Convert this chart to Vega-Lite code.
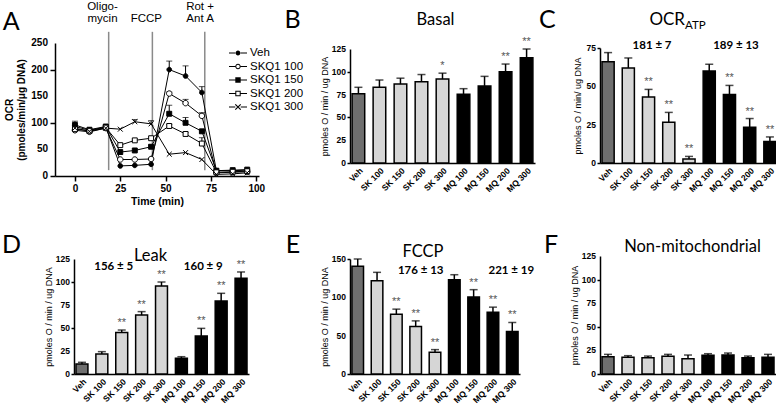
{
"$schema": "https://vega.github.io/schema/vega-lite/v6.json",
"background": "white",
"padding": {"left": 1, "top": 1, "right": 0, "bottom": 0},
"config": {"view": {"stroke": null}, "font": "Liberation Sans", "axis": {"domainColor": "black", "tickColor": "black", "labelColor": "black", "titleColor": "black", "grid": false, "labelFont": "Liberation Sans", "titleFont": "Liberation Sans", "labelOverlap": false}},
"resolve": {"scale": {"fill": "independent", "shape": "independent"}, "legend": {"fill": "independent", "shape": "independent"}},
"datasets": {
"tc": [
{"s":"Veh","t":0,"v":93,"u":103},{"s":"Veh","t":8,"v":86},{"s":"Veh","t":17,"v":92},{"s":"Veh","t":25,"v":19},{"s":"Veh","t":33,"v":20},{"s":"Veh","t":42,"v":22},{"s":"Veh","t":52,"v":200,"u":216},{"s":"Veh","t":61,"v":188,"u":207},{"s":"Veh","t":70,"v":157,"u":168},{"s":"Veh","t":78,"v":10},{"s":"Veh","t":87,"v":10},{"s":"Veh","t":95,"v":11},
{"s":"SKQ1 100","t":0,"v":86},{"s":"SKQ1 100","t":8,"v":83},{"s":"SKQ1 100","t":17,"v":90},{"s":"SKQ1 100","t":25,"v":31},{"s":"SKQ1 100","t":33,"v":31},{"s":"SKQ1 100","t":42,"v":32},{"s":"SKQ1 100","t":52,"v":155,"u":158},{"s":"SKQ1 100","t":61,"v":137,"u":144},{"s":"SKQ1 100","t":70,"v":113,"u":119},{"s":"SKQ1 100","t":78,"v":6},{"s":"SKQ1 100","t":87,"v":7},{"s":"SKQ1 100","t":95,"v":8},
{"s":"SKQ1 150","t":0,"v":96},{"s":"SKQ1 150","t":8,"v":87},{"s":"SKQ1 150","t":17,"v":93},{"s":"SKQ1 150","t":25,"v":45},{"s":"SKQ1 150","t":33,"v":48},{"s":"SKQ1 150","t":42,"v":55,"u":58},{"s":"SKQ1 150","t":52,"v":117,"u":133},{"s":"SKQ1 150","t":61,"v":100,"u":110},{"s":"SKQ1 150","t":70,"v":84,"u":86},{"s":"SKQ1 150","t":78,"v":10},{"s":"SKQ1 150","t":87,"v":11},{"s":"SKQ1 150","t":95,"v":12},
{"s":"SKQ1 200","t":0,"v":88},{"s":"SKQ1 200","t":8,"v":85},{"s":"SKQ1 200","t":17,"v":91},{"s":"SKQ1 200","t":25,"v":58},{"s":"SKQ1 200","t":33,"v":67},{"s":"SKQ1 200","t":42,"v":71},{"s":"SKQ1 200","t":52,"v":94,"u":97},{"s":"SKQ1 200","t":61,"v":79,"u":82},{"s":"SKQ1 200","t":70,"v":61,"u":72},{"s":"SKQ1 200","t":78,"v":7},{"s":"SKQ1 200","t":87,"v":8},{"s":"SKQ1 200","t":95,"v":9},
{"s":"SKQ1 300","t":0,"v":90},{"s":"SKQ1 300","t":8,"v":84},{"s":"SKQ1 300","t":17,"v":90},{"s":"SKQ1 300","t":25,"v":88},{"s":"SKQ1 300","t":33,"v":102,"u":106},{"s":"SKQ1 300","t":42,"v":98,"u":104},{"s":"SKQ1 300","t":52,"v":41},{"s":"SKQ1 300","t":61,"v":44},{"s":"SKQ1 300","t":70,"v":31},{"s":"SKQ1 300","t":78,"v":3},{"s":"SKQ1 300","t":87,"v":4},{"s":"SKQ1 300","t":95,"v":6}
],
"bars": [
{"p":"B","c":"Veh","g":"Veh","v":76,"u":83,"s":""},{"p":"B","c":"SK 100","g":"SK","v":83,"u":91,"s":""},{"p":"B","c":"SK 150","g":"SK","v":86.5,"u":93,"s":""},{"p":"B","c":"SK 200","g":"SK","v":89,"u":97,"s":""},{"p":"B","c":"SK 300","g":"SK","v":92,"u":98.5,"s":"*"},{"p":"B","c":"MQ 100","g":"MQ","v":75.5,"u":81.5,"s":""},{"p":"B","c":"MQ 150","g":"MQ","v":84.5,"u":95,"s":""},{"p":"B","c":"MQ 200","g":"MQ","v":100,"u":108.5,"s":"**"},{"p":"B","c":"MQ 300","g":"MQ","v":115.5,"u":125,"s":"**"},
{"p":"C","c":"Veh","g":"Veh","v":66,"u":72,"s":""},{"p":"C","c":"SK 100","g":"SK","v":62,"u":68.5,"s":""},{"p":"C","c":"SK 150","g":"SK","v":43,"u":48,"s":"**"},{"p":"C","c":"SK 200","g":"SK","v":26.6,"u":33,"s":"**"},{"p":"C","c":"SK 300","g":"SK","v":2.6,"u":4.3,"s":"**"},{"p":"C","c":"MQ 100","g":"MQ","v":60,"u":64.4,"s":""},{"p":"C","c":"MQ 150","g":"MQ","v":44.7,"u":50.6,"s":"**"},{"p":"C","c":"MQ 200","g":"MQ","v":23.3,"u":29,"s":"**"},{"p":"C","c":"MQ 300","g":"MQ","v":14,"u":17,"s":"**"},
{"p":"D","c":"Veh","g":"Veh","v":10.9,"u":12.7,"s":""},{"p":"D","c":"SK 100","g":"SK","v":21.7,"u":24.3,"s":""},{"p":"D","c":"SK 150","g":"SK","v":45,"u":47.8,"s":"**"},{"p":"D","c":"SK 200","g":"SK","v":64,"u":67.8,"s":"**"},{"p":"D","c":"SK 300","g":"SK","v":95.6,"u":100,"s":"**"},{"p":"D","c":"MQ 100","g":"MQ","v":17,"u":18.8,"s":""},{"p":"D","c":"MQ 150","g":"MQ","v":41.3,"u":49.6,"s":"**"},{"p":"D","c":"MQ 200","g":"MQ","v":79.3,"u":87.7,"s":"**"},{"p":"D","c":"MQ 300","g":"MQ","v":104,"u":110.9,"s":"**"},
{"p":"E","c":"Veh","g":"Veh","v":140.4,"u":150,"s":""},{"p":"E","c":"SK 100","g":"SK","v":121.7,"u":132.6,"s":""},{"p":"E","c":"SK 150","g":"SK","v":78,"u":84.6,"s":"**"},{"p":"E","c":"SK 200","g":"SK","v":62,"u":69.3,"s":"**"},{"p":"E","c":"SK 300","g":"SK","v":28.3,"u":31.8,"s":"**"},{"p":"E","c":"MQ 100","g":"MQ","v":123,"u":129.5,"s":""},{"p":"E","c":"MQ 150","g":"MQ","v":100.3,"u":110,"s":"**"},{"p":"E","c":"MQ 200","g":"MQ","v":80.7,"u":87.2,"s":"**"},{"p":"E","c":"MQ 300","g":"MQ","v":55.4,"u":67.2,"s":"**"},
{"p":"F","c":"Veh","g":"Veh","v":18.4,"u":20.8,"s":""},{"p":"F","c":"SK 100","g":"SK","v":17.7,"u":19.4,"s":""},{"p":"F","c":"SK 150","g":"SK","v":17.3,"u":19,"s":""},{"p":"F","c":"SK 200","g":"SK","v":18.7,"u":20.8,"s":""},{"p":"F","c":"SK 300","g":"SK","v":16.2,"u":20.1,"s":""},{"p":"F","c":"MQ 100","g":"MQ","v":19.8,"u":21.5,"s":""},{"p":"F","c":"MQ 150","g":"MQ","v":20.1,"u":22.2,"s":""},{"p":"F","c":"MQ 200","g":"MQ","v":17.3,"u":19,"s":""},{"p":"F","c":"MQ 300","g":"MQ","v":17.7,"u":20.8,"s":""}
]
},
"columns": 3,
"bounds": "flush",
"spacing": {"row": 80, "column": 65},
"concat": [
{
 "width": 230, "height": 133,
 "resolve": {"scale": {"shape": "independent"}},
 "layer": [
  {"data": {"values": [{"t":18.6},{"t":42.7},{"t":71.6}]}, "mark": {"type": "rule", "color": "#8a8a8a", "strokeWidth": 1.5}, "encoding": {"x": {"field": "t", "type": "quantitative"}, "y": {"datum": 11}, "y2": {"datum": 271}}},
  {"data": {"name": "tc"}, "mark": {"type": "line", "color": "black", "strokeWidth": 1}, "encoding": {
    "x": {"field": "t", "type": "quantitative", "scale": {"domain": [-11, 101.5], "range": [0, 204], "nice": false, "zero": false}, "axis": {"values": [0,25,50,75,100], "labelOverlap": false, "title": "Time (min)", "titleFontWeight": "bold", "titleFontSize": 10.5, "titlePadding": 3, "labelFontWeight": "bold", "labelFontSize": 10, "labelPadding": 2, "tickSize": 5, "tickWidth": 1.5, "domainWidth": 1.5}},
    "y": {"field": "v", "type": "quantitative", "scale": {"domain": [0, 250], "nice": false}, "axis": {"values": [0,50,100,150,200,250], "labels": false, "title": ["OCR", "(pmoles/min/μg DNA)"], "titleFontWeight": "bold", "titleFontSize": 10, "titlePadding": 23, "tickSize": 5, "tickWidth": 1.5, "domainWidth": 1.5}},
    "detail": {"field": "s"}}},
  {"data": {"values": [{"yv":0},{"yv":50},{"yv":100},{"yv":150},{"yv":200},{"yv":250}]}, "mark": {"type": "text", "align": "right", "baseline": "middle", "dx": -7, "font": "Liberation Sans", "fontWeight": "bold", "fontSize": 10, "color": "black"}, "encoding": {"x": {"datum": -11}, "y": {"field": "yv", "type": "quantitative"}, "text": {"field": "yv", "type": "quantitative"}}},
  {"data": {"name": "tc"}, "transform": [{"filter": "datum.u != null"}], "mark": {"type": "rule", "color": "black", "strokeWidth": 1}, "encoding": {"x": {"field": "t", "type": "quantitative"}, "y": {"field": "v", "type": "quantitative"}, "y2": {"field": "u"}}},
  {"data": {"name": "tc"}, "transform": [{"filter": "datum.u != null"}], "mark": {"type": "tick", "orient": "horizontal", "color": "black", "size": 6, "thickness": 1}, "encoding": {"x": {"field": "t", "type": "quantitative"}, "y": {"field": "u", "type": "quantitative"}}},
  {"data": {"name": "tc"}, "mark": {"type": "point", "filled": true, "stroke": "black", "strokeWidth": 1, "size": 30, "opacity": 1}, "encoding": {
    "x": {"field": "t", "type": "quantitative"},
    "y": {"field": "v", "type": "quantitative"},
    "shape": {"field": "s", "type": "nominal", "scale": {"domain": ["Veh","SKQ1 100","SKQ1 150","SKQ1 200","SKQ1 300"], "range": ["M-0.85,0A0.85,0.85,0,1,0,0.85,0A0.85,0.85,0,1,0,-0.85,0Z","M-1,0A1,1,0,1,0,1,0A1,1,0,1,0,-1,0Z","M-0.9,-0.9H0.9V0.9H-0.9Z","M-0.9,-0.9H0.9V0.9H-0.9Z","M-0.9,-0.9L0.9,0.9M-0.9,0.9L0.9,-0.9"]}, "legend": null},
    "fill": {"field": "s", "type": "nominal", "scale": {"domain": ["Veh","SKQ1 100","SKQ1 150","SKQ1 200","SKQ1 300"], "range": ["black","white","black","white","black"]}, "legend": null}}},
  {"data": {"name": "tc"}, "transform": [{"filter": "datum.t == 0"}], "mark": {"type": "point", "filled": true, "color": "black", "size": 0, "strokeWidth": 0}, "encoding": {
    "x": {"field": "t", "type": "quantitative"},
    "y": {"field": "v", "type": "quantitative"},
    "shape": {"field": "s", "type": "nominal", "scale": {"domain": ["Veh","SKQ1 100","SKQ1 150","SKQ1 200","SKQ1 300"], "range": [
      "M-1.286,-0.071H-0.386V0.071H-1.286ZM0.386,-0.071H1.286V0.071H0.386ZM-0.34,0A0.34,0.34,0,1,0,0.34,0A0.34,0.34,0,1,0,-0.34,0Z",
      "M-1.286,-0.071H-0.386V0.071H-1.286ZM0.386,-0.071H1.286V0.071H0.386ZM-0.386,0A0.386,0.386,0,1,0,0.386,0A0.386,0.386,0,1,0,-0.386,0ZM-0.243,0A0.243,0.243,0,1,1,0.243,0A0.243,0.243,0,1,1,-0.243,0Z",
      "M-1.286,-0.071H-0.386V0.071H-1.286ZM0.386,-0.071H1.286V0.071H0.386ZM-0.386,-0.386H0.386V0.386H-0.386Z",
      "M-1.286,-0.071H-0.386V0.071H-1.286ZM0.386,-0.071H1.286V0.071H0.386ZM-0.386,-0.386H0.386V0.386H-0.386ZM-0.243,-0.243V0.243H0.243V-0.243Z",
      "M-1.286,-0.071H-0.386V0.071H-1.286ZM0.386,-0.071H1.286V0.071H0.386ZM-0.446,-0.326L0.326,0.446L0.446,0.326L-0.326,-0.446ZM-0.446,0.326L-0.326,0.446L0.446,-0.326L0.326,-0.446Z"]},
      "legend": {"title": null, "orient": "none", "legendX": 176, "legendY": 3, "padding": 0, "labelFont": "Liberation Sans", "labelFontSize": 11.5, "labelColor": "black", "labelOffset": 5, "rowPadding": 0.5, "symbolSize": 196, "symbolFillColor": "black", "symbolStrokeWidth": 0, "symbolOpacity": 1}}}},
  {"data": {"values": [{"t": 15.2, "lab": "Oligo-\nmycin"}, {"t": 39.4, "lab": "\nFCCP"}, {"t": 69, "lab": "Rot +\nAnt A"}]}, "mark": {"type": "text", "align": "center", "baseline": "alphabetic", "lineBreak": "\n", "lineHeight": 11.6, "fontSize": 11.5, "color": "black"}, "encoding": {"x": {"field": "t", "type": "quantitative"}, "y": {"datum": 312}, "text": {"field": "lab"}}},
  {"data": {"values": [{"t": "A"}]}, "mark": {"type": "text", "align": "left", "baseline": "alphabetic", "font": "Lato", "fontSize": 25, "color": "black"}, "encoding": {"x": {"datum": -39.8}, "y": {"datum": 274.4}, "text": {"field": "t"}}}
 ]
},
{
 "width": 185, "height": 120,
 "data": {"name": "bars"},
 "transform": [{"filter": "datum.p == 'B'"}],
 "encoding": {"x": {"field": "c", "type": "nominal", "sort": null, "title": null, "scale": {"domain": ["Veh","SK 100","SK 150","SK 200","SK 300","MQ 100","MQ 150","MQ 200","MQ 300"], "paddingInner": 0.4, "paddingOuter": 0.1}, "axis": {"title": null, "labelAngle": -45, "labelFontSize": 8.5, "labelFontWeight": "bold", "ticks": false, "domainWidth": 1.5, "labelPadding": 3}}},
 "layer": [
  {"mark": {"type": "bar", "stroke": "black", "strokeWidth": 1.5}, "encoding": {"y": {"field": "v", "type": "quantitative", "title": "pmoles O / min / ug DNA", "scale": {"domain": [0,125], "range": [120,6], "nice": false}, "axis": {"values": [0,25,50,75,100,125], "labels": false, "tickSize": 3, "tickWidth": 1.5, "domainWidth": 1.5, "titleFontSize": 9, "titleFontWeight": "normal", "titlePadding": 17}}, "fill": {"field": "g", "type": "nominal", "scale": {"domain": ["Veh","SK","MQ"], "range": ["#6f6f6f","#d6d6d6","#000000"]}, "legend": null}}},
  {"mark": {"type": "rule", "color": "black", "strokeWidth": 1.5}, "encoding": {"y": {"field": "v", "type": "quantitative", "title": "pmoles O / min / ug DNA"}, "y2": {"field": "u"}}},
  {"mark": {"type": "tick", "orient": "horizontal", "color": "black", "size": 8, "thickness": 1.5}, "encoding": {"y": {"field": "u", "type": "quantitative", "title": "pmoles O / min / ug DNA"}}},
  {"transform": [{"filter": "datum.s != ''"}], "mark": {"type": "text", "baseline": "alphabetic", "dy": -4, "fontSize": 11, "fill": "#555555"}, "encoding": {"y": {"field": "u", "type": "quantitative", "title": "pmoles O / min / ug DNA"}, "text": {"field": "s"}}},
  {"data": {"values": [{"p":"B","yv":0},{"p":"B","yv":25},{"p":"B","yv":50},{"p":"B","yv":75},{"p":"B","yv":100},{"p":"B","yv":125}]}, "mark": {"type": "text", "align": "right", "baseline": "middle", "dx": -12.4, "font": "Liberation Sans", "fontWeight": "bold", "fontSize": 8.5, "color": "black"}, "encoding": {"x": {"datum": "Veh"}, "y": {"field": "yv", "type": "quantitative", "title": "pmoles O / min / ug DNA"}, "text": {"field": "yv", "type": "quantitative"}}},
  {"data": {"values": [{"p": "B", "t": "B"}]}, "mark": {"type": "text", "align": "left", "baseline": "alphabetic", "dx": -74, "font": "Lato", "fontSize": 25, "color": "black"}, "encoding": {"x": {"datum": "Veh"}, "y": {"datum": 148}, "text": {"field": "t"}}},
  {"data": {"values": [{"p": "B", "t": "Basal"}]}, "mark": {"type": "text", "align": "center", "baseline": "alphabetic", "dx": -7, "font": "Lato", "fontSize": 16.5, "color": "black"}, "encoding": {"x": {"datum": "SK 300"}, "y": {"datum": 151}, "text": {"field": "t"}}}
 ]
},
{
 "width": 178, "height": 120,
 "data": {"name": "bars"},
 "transform": [{"filter": "datum.p == 'C'"}],
 "encoding": {"x": {"field": "c", "type": "nominal", "sort": null, "title": null, "scale": {"domain": ["Veh","SK 100","SK 150","SK 200","SK 300","MQ 100","MQ 150","MQ 200","MQ 300"], "paddingInner": 0.4, "paddingOuter": 0.1}, "axis": {"title": null, "labelAngle": -45, "labelFontSize": 8.5, "labelFontWeight": "bold", "ticks": false, "domainWidth": 1.5, "labelPadding": 3}}},
 "layer": [
  {"mark": {"type": "bar", "stroke": "black", "strokeWidth": 1.5}, "encoding": {"y": {"field": "v", "type": "quantitative", "title": "pmoles O / min/  ug DNA", "scale": {"domain": [0,75], "range": [120,5], "nice": false}, "axis": {"values": [0,25,50,75], "labels": false, "tickSize": 3, "tickWidth": 1.5, "domainWidth": 1.5, "titleFontSize": 9, "titleFontWeight": "normal", "titlePadding": 14}}, "fill": {"field": "g", "type": "nominal", "scale": {"domain": ["Veh","SK","MQ"], "range": ["#6f6f6f","#d6d6d6","#000000"]}, "legend": null}}},
  {"mark": {"type": "rule", "color": "black", "strokeWidth": 1.5}, "encoding": {"y": {"field": "v", "type": "quantitative", "title": "pmoles O / min/  ug DNA"}, "y2": {"field": "u"}}},
  {"mark": {"type": "tick", "orient": "horizontal", "color": "black", "size": 8, "thickness": 1.5}, "encoding": {"y": {"field": "u", "type": "quantitative", "title": "pmoles O / min/  ug DNA"}}},
  {"transform": [{"filter": "datum.s != ''"}], "mark": {"type": "text", "baseline": "alphabetic", "dy": -4, "fontSize": 11, "fill": "#555555"}, "encoding": {"y": {"field": "u", "type": "quantitative", "title": "pmoles O / min/  ug DNA"}, "text": {"field": "s"}}},
  {"data": {"values": [{"p":"C","yv":0},{"p":"C","yv":25},{"p":"C","yv":50},{"p":"C","yv":75}]}, "mark": {"type": "text", "align": "right", "baseline": "middle", "dx": -12.1, "font": "Liberation Sans", "fontWeight": "bold", "fontSize": 8.5, "color": "black"}, "encoding": {"x": {"datum": "Veh"}, "y": {"field": "yv", "type": "quantitative", "title": "pmoles O / min/  ug DNA"}, "text": {"field": "yv", "type": "quantitative"}}},
  {"data": {"values": [{"p": "C", "t": "C"}]}, "mark": {"type": "text", "align": "left", "baseline": "alphabetic", "dx": -69, "font": "Lato", "fontSize": 25, "color": "black"}, "encoding": {"x": {"datum": "Veh"}, "y": {"datum": 88}, "text": {"field": "t"}}},
  {"data": {"values": [{"p": "C", "t": "OCR"}]}, "mark": {"type": "text", "align": "right", "baseline": "alphabetic", "dx": -4, "font": "Lato", "fontSize": 17, "color": "black"}, "encoding": {"x": {"datum": "SK 300"}, "y": {"datum": 90}, "text": {"field": "t"}}},
  {"data": {"values": [{"p": "C", "t": "ATP"}]}, "mark": {"type": "text", "align": "left", "baseline": "alphabetic", "dx": -4, "font": "Lato", "fontSize": 11.5, "color": "black"}, "encoding": {"x": {"datum": "SK 300"}, "y": {"datum": 87.2}, "text": {"field": "t"}}},
  {"data": {"values": [{"p": "C", "t": "181 ± 7"}]}, "mark": {"type": "text", "align": "center", "baseline": "alphabetic", "dx": 3.5, "font": "Lato", "fontWeight": "bold", "fontSize": 11.5, "color": "black"}, "encoding": {"x": {"datum": "SK 150"}, "y": {"datum": 74.4}, "text": {"field": "t"}}},
  {"data": {"values": [{"p": "C", "t": "189 ± 13"}]}, "mark": {"type": "text", "align": "center", "baseline": "alphabetic", "dx": 6.5, "font": "Lato", "fontWeight": "bold", "fontSize": 11.5, "color": "black"}, "encoding": {"x": {"datum": "MQ 150"}, "y": {"datum": 74.4}, "text": {"field": "t"}}}
 ]
},
{
 "width": 230, "height": 118,
 "data": {"name": "bars"},
 "transform": [{"filter": "datum.p == 'D'"}],
 "encoding": {"x": {"field": "c", "type": "nominal", "sort": null, "title": null, "scale": {"domain": ["Veh","SK 100","SK 150","SK 200","SK 300","MQ 100","MQ 150","MQ 200","MQ 300"], "range": [19, 194], "paddingInner": 0.4, "paddingOuter": 0.1}, "axis": {"title": null, "labelAngle": -45, "labelFontSize": 8.5, "labelFontWeight": "bold", "ticks": false, "domainWidth": 1.5, "labelPadding": 3}}},
 "layer": [
  {"mark": {"type": "bar", "stroke": "black", "strokeWidth": 1.5}, "encoding": {"y": {"field": "v", "type": "quantitative", "title": "pmoles O / min / ug DNA", "scale": {"domain": [0,125], "range": [118,3], "nice": false}, "axis": {"offset": -19, "values": [0,25,50,75,100,125], "labels": false, "tickSize": 3, "tickWidth": 1.5, "domainWidth": 1.5, "titleFontSize": 9, "titleFontWeight": "normal", "titlePadding": 17}}, "fill": {"field": "g", "type": "nominal", "scale": {"domain": ["Veh","SK","MQ"], "range": ["#6f6f6f","#d6d6d6","#000000"]}, "legend": null}}},
  {"mark": {"type": "rule", "color": "black", "strokeWidth": 1.5}, "encoding": {"y": {"field": "v", "type": "quantitative", "title": "pmoles O / min / ug DNA"}, "y2": {"field": "u"}}},
  {"mark": {"type": "tick", "orient": "horizontal", "color": "black", "size": 8, "thickness": 1.5}, "encoding": {"y": {"field": "u", "type": "quantitative", "title": "pmoles O / min / ug DNA"}}},
  {"transform": [{"filter": "datum.s != ''"}], "mark": {"type": "text", "baseline": "alphabetic", "dy": -4, "fontSize": 11, "fill": "#555555"}, "encoding": {"y": {"field": "u", "type": "quantitative", "title": "pmoles O / min / ug DNA"}, "text": {"field": "s"}}},
  {"data": {"values": [{"p":"D","yv":0},{"p":"D","yv":25},{"p":"D","yv":50},{"p":"D","yv":75},{"p":"D","yv":100},{"p":"D","yv":125}]}, "mark": {"type": "text", "align": "right", "baseline": "middle", "dx": -12, "font": "Liberation Sans", "fontWeight": "bold", "fontSize": 8.5, "color": "black"}, "encoding": {"x": {"datum": "Veh"}, "y": {"field": "yv", "type": "quantitative", "title": "pmoles O / min / ug DNA"}, "text": {"field": "yv", "type": "quantitative"}}},
  {"data": {"values": [{"p": "D", "t": "D"}]}, "mark": {"type": "text", "align": "left", "baseline": "alphabetic", "dx": -80, "font": "Lato", "fontSize": 25, "color": "black"}, "encoding": {"x": {"datum": "Veh"}, "y": {"datum": 131.5}, "text": {"field": "t"}}},
  {"data": {"values": [{"p": "D", "t": "Leak"}]}, "mark": {"type": "text", "align": "center", "baseline": "alphabetic", "dx": -11, "font": "Lato", "fontSize": 16.5, "color": "black"}, "encoding": {"x": {"datum": "SK 300"}, "y": {"datum": 123}, "text": {"field": "t"}}},
  {"data": {"values": [{"p": "D", "t": "156 ± 5"}]}, "mark": {"type": "text", "align": "center", "baseline": "alphabetic", "dx": -8, "font": "Lato", "fontWeight": "bold", "fontSize": 11.5, "color": "black"}, "encoding": {"x": {"datum": "SK 150"}, "y": {"datum": 113}, "text": {"field": "t"}}},
  {"data": {"values": [{"p": "D", "t": "160 ± 9"}]}, "mark": {"type": "text", "align": "center", "baseline": "alphabetic", "dx": 2, "font": "Lato", "fontWeight": "bold", "fontSize": 11.5, "color": "black"}, "encoding": {"x": {"datum": "MQ 150"}, "y": {"datum": 113}, "text": {"field": "t"}}}
 ]
},
{
 "width": 185, "height": 118,
 "data": {"name": "bars"},
 "transform": [{"filter": "datum.p == 'E'"}],
 "encoding": {"x": {"field": "c", "type": "nominal", "sort": null, "title": null, "scale": {"domain": ["Veh","SK 100","SK 150","SK 200","SK 300","MQ 100","MQ 150","MQ 200","MQ 300"], "range": [0, 170], "paddingInner": 0.4, "paddingOuter": 0.1}, "axis": {"title": null, "labelAngle": -45, "labelFontSize": 8.5, "labelFontWeight": "bold", "ticks": false, "domainWidth": 1.5, "labelPadding": 3}}},
 "layer": [
  {"mark": {"type": "bar", "stroke": "black", "strokeWidth": 1.5}, "encoding": {"y": {"field": "v", "type": "quantitative", "title": "pmoles O / min / ug DNA", "scale": {"domain": [0,150], "range": [118,3], "nice": false}, "axis": {"values": [0,50,100,150], "labels": false, "tickSize": 3, "tickWidth": 1.5, "domainWidth": 1.5, "titleFontSize": 9, "titleFontWeight": "normal", "titlePadding": 17}}, "fill": {"field": "g", "type": "nominal", "scale": {"domain": ["Veh","SK","MQ"], "range": ["#6f6f6f","#d6d6d6","#000000"]}, "legend": null}}},
  {"mark": {"type": "rule", "color": "black", "strokeWidth": 1.5}, "encoding": {"y": {"field": "v", "type": "quantitative", "title": "pmoles O / min / ug DNA"}, "y2": {"field": "u"}}},
  {"mark": {"type": "tick", "orient": "horizontal", "color": "black", "size": 8, "thickness": 1.5}, "encoding": {"y": {"field": "u", "type": "quantitative", "title": "pmoles O / min / ug DNA"}}},
  {"transform": [{"filter": "datum.s != ''"}], "mark": {"type": "text", "baseline": "alphabetic", "dy": -4, "fontSize": 11, "fill": "#555555"}, "encoding": {"y": {"field": "u", "type": "quantitative", "title": "pmoles O / min / ug DNA"}, "text": {"field": "s"}}},
  {"data": {"values": [{"p":"E","yv":0},{"p":"E","yv":50},{"p":"E","yv":100},{"p":"E","yv":150}]}, "mark": {"type": "text", "align": "right", "baseline": "middle", "dx": -11.7, "font": "Liberation Sans", "fontWeight": "bold", "fontSize": 8.5, "color": "black"}, "encoding": {"x": {"datum": "Veh"}, "y": {"field": "yv", "type": "quantitative", "title": "pmoles O / min / ug DNA"}, "text": {"field": "yv", "type": "quantitative"}}},
  {"data": {"values": [{"p": "E", "t": "E"}]}, "mark": {"type": "text", "align": "left", "baseline": "alphabetic", "dx": -72, "font": "Lato", "fontSize": 25, "color": "black"}, "encoding": {"x": {"datum": "Veh"}, "y": {"datum": 157.8}, "text": {"field": "t"}}},
  {"data": {"values": [{"p": "E", "t": "FCCP"}]}, "mark": {"type": "text", "align": "center", "baseline": "alphabetic", "dx": -12, "font": "Lato", "fontSize": 16.5, "color": "black"}, "encoding": {"x": {"datum": "SK 300"}, "y": {"datum": 153}, "text": {"field": "t"}}},
  {"data": {"values": [{"p": "E", "t": "176 ± 13"}]}, "mark": {"type": "text", "align": "center", "baseline": "alphabetic", "dx": 5, "font": "Lato", "fontWeight": "bold", "fontSize": 11.5, "color": "black"}, "encoding": {"x": {"datum": "SK 200"}, "y": {"datum": 130}, "text": {"field": "t"}}},
  {"data": {"values": [{"p": "E", "t": "221 ± 19"}]}, "mark": {"type": "text", "align": "center", "baseline": "alphabetic", "dx": -1, "font": "Lato", "fontWeight": "bold", "fontSize": 11.5, "color": "black"}, "encoding": {"x": {"datum": "MQ 300"}, "y": {"datum": 130}, "text": {"field": "t"}}}
 ]
},
{
 "width": 178, "height": 118,
 "data": {"name": "bars"},
 "transform": [{"filter": "datum.p == 'F'"}],
 "encoding": {"x": {"field": "c", "type": "nominal", "sort": null, "title": null, "scale": {"domain": ["Veh","SK 100","SK 150","SK 200","SK 300","MQ 100","MQ 150","MQ 200","MQ 300"], "range": [0, 176], "paddingInner": 0.4, "paddingOuter": 0.1}, "axis": {"title": null, "labelAngle": -45, "labelFontSize": 8.5, "labelFontWeight": "bold", "ticks": false, "domainWidth": 1.5, "labelPadding": 3}}},
 "layer": [
  {"mark": {"type": "bar", "stroke": "black", "strokeWidth": 1.5}, "encoding": {"y": {"field": "v", "type": "quantitative", "title": "pmoles O / min / ug DNA", "scale": {"domain": [0,125], "range": [118,0], "nice": false}, "axis": {"values": [0,25,50,75,100,125], "labels": false, "tickSize": 3, "tickWidth": 1.5, "domainWidth": 1.5, "titleFontSize": 9, "titleFontWeight": "normal", "titlePadding": 17}}, "fill": {"field": "g", "type": "nominal", "scale": {"domain": ["Veh","SK","MQ"], "range": ["#6f6f6f","#d6d6d6","#000000"]}, "legend": null}}},
  {"mark": {"type": "rule", "color": "black", "strokeWidth": 1.5}, "encoding": {"y": {"field": "v", "type": "quantitative", "title": "pmoles O / min / ug DNA"}, "y2": {"field": "u"}}},
  {"mark": {"type": "tick", "orient": "horizontal", "color": "black", "size": 8, "thickness": 1.5}, "encoding": {"y": {"field": "u", "type": "quantitative", "title": "pmoles O / min / ug DNA"}}},
  {"data": {"values": [{"p":"F","yv":0},{"p":"F","yv":25},{"p":"F","yv":50},{"p":"F","yv":75},{"p":"F","yv":100},{"p":"F","yv":125}]}, "mark": {"type": "text", "align": "right", "baseline": "middle", "dx": -12, "font": "Liberation Sans", "fontWeight": "bold", "fontSize": 8.5, "color": "black"}, "encoding": {"x": {"datum": "Veh"}, "y": {"field": "yv", "type": "quantitative", "title": "pmoles O / min / ug DNA"}, "text": {"field": "yv", "type": "quantitative"}}},
  {"data": {"values": [{"p": "F", "t": "F"}]}, "mark": {"type": "text", "align": "left", "baseline": "alphabetic", "dx": -64, "font": "Lato", "fontSize": 25, "color": "black"}, "encoding": {"x": {"datum": "Veh"}, "y": {"datum": 128}, "text": {"field": "t"}}},
  {"data": {"values": [{"p": "F", "t": "Non-mitochondrial"}]}, "mark": {"type": "text", "align": "center", "baseline": "alphabetic", "dx": 4.5, "font": "Lato", "fontSize": 16.5, "color": "black"}, "encoding": {"x": {"datum": "SK 300"}, "y": {"datum": 129.5}, "text": {"field": "t"}}}
 ]
}
]
}
